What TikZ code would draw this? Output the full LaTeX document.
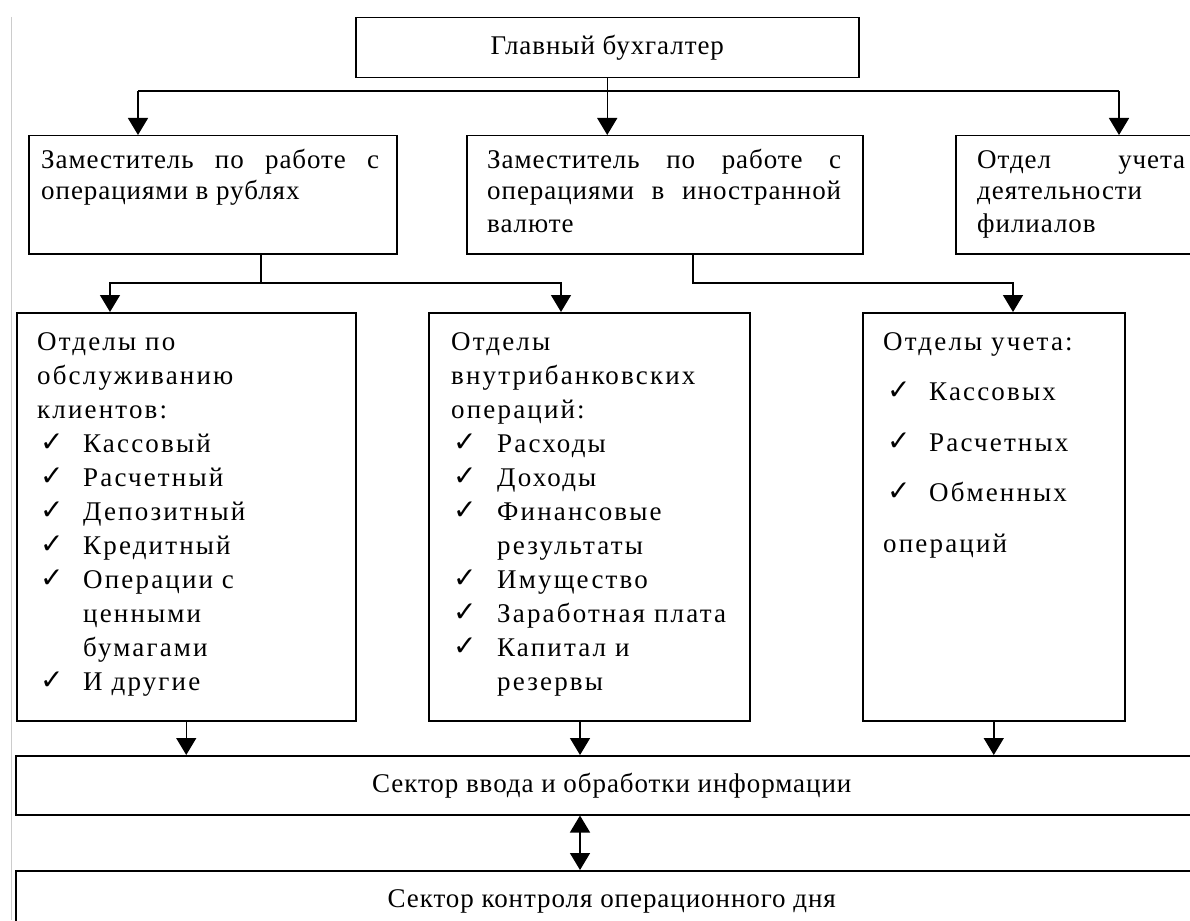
\documentclass[tikz,border=0pt]{standalone}
\usepackage{fontspec}
\setmainfont{Liberation Serif}
\newfontfamily\symfont{DejaVu Sans}
\usetikzlibrary{arrows.meta}
\newcommand{\chk}{{\symfont\fontsize{28}{28}\selectfont\raisebox{1pt}{✓}}}
\newcommand{\itm}[2]{\hspace*{#1pt}\makebox[\numexpr46-#1\relax pt][l]{\chk}}
\newcommand{\cont}{\hspace*{46pt}}
\newcommand{\jline}[1]{\makebox[\linewidth][s]{#1}}
\newcommand{\mainsize}{\fontsize{27}{32}\selectfont\addfontfeatures{LetterSpace=3.5}}
\tikzset{
  box/.style={draw, line width=1.5pt, inner sep=0pt, anchor=north west, font=\mainsize},
  ln/.style={line width=1.5pt},
  arr/.style={line width=1.5pt, -{Triangle[length=17pt,width=20pt]}},
  darr/.style={line width=1.5pt, {Triangle[length=17pt,width=20pt]}-{Triangle[length=17pt,width=20pt]}},
  txt/.style={inner sep=0pt, anchor=base west, font=\mainsize},
  ltxt/.style={inner sep=0pt, anchor=base west, font=\fontsize{27}{34}\selectfont\addfontfeatures{LetterSpace=8}},
  ftxt/.style={inner sep=0pt, anchor=base west, font=\fontsize{27}{50.5}\selectfont\addfontfeatures{LetterSpace=8}},
}
\begin{document}
\begin{tikzpicture}[x=1pt,y=-1pt]
\useasboundingbox (0,0) rectangle (1190,920);
\clip (0,0) rectangle (1190,920);
\fill[white] (0,0) rectangle (1190,920);
\draw[gray!40, line width=1pt] (11,17) -- (11,920);

% boxes
\node[box, minimum width=503pt, minimum height=60pt] (chief) at (355,17) {Главный бухгалтер};
\node[box, minimum width=368pt, minimum height=118pt] (boxA) at (28,135) {};
\node[box, minimum width=396pt, minimum height=118pt] (boxB) at (466,135) {};
\node[box, minimum width=251pt, minimum height=118pt] (boxC) at (955,135) {};
\node[box, minimum width=339pt, minimum height=408pt] (boxD) at (16,312) {};
\node[box, minimum width=321pt, minimum height=408pt] (boxE) at (428,312) {};
\node[box, minimum width=262pt, minimum height=408pt] (boxF) at (862,312) {};
\node[box, minimum width=1192pt, minimum height=59pt] (sec1) at (15,755) {Сектор ввода и обработки информации};
\node[box, minimum width=1192pt, minimum height=61pt] (sec2) at (15,870) {Сектор контроля операционного дня};

% texts
\node[txt] (tA) at (41,168) {\parbox[t]{338pt}{\jline{Заместитель по работе с}\\операциями в рублях}};
\node[txt] (tB) at (487,168) {\parbox[t]{354pt}{\jline{Заместитель по работе с}\\\jline{операциями в иностранной}\\валюте}};
\node[txt] (tC) at (977,168) {\parbox[t]{208pt}{\jline{Отдел учета}\\деятельности\\филиалов}};
\node[ltxt] (tD) at (37,350) {\parbox[t]{310pt}{Отделы по\\обслуживанию\\клиентов:\\
\itm{3}{}Кассовый\\
\itm{3}{}Расчетный\\
\itm{3}{}Депозитный\\
\itm{3}{}Кредитный\\
\itm{3}{}Операции с\\
\cont ценными\\
\cont бумагами\\
\itm{3}{}И другие}};
\node[ltxt] (tE) at (451,350) {\parbox[t]{295pt}{Отделы\\внутрибанковских\\операций:\\
\itm{2}{}Расходы\\
\itm{2}{}Доходы\\
\itm{2}{}Финансовые\\
\cont результаты\\
\itm{2}{}Имущество\\
\itm{2}{}Заработная плата\\
\itm{2}{}Капитал и\\
\cont резервы}};
\node[ftxt] (tF) at (883,350) {\parbox[t]{235pt}{Отделы учета:\\
\itm{4}{}Кассовых\\
\itm{4}{}Расчетных\\
\itm{4}{}Обменных\\
операций}};

% connectors level 1
\coordinate (hA) at (138,91);
\coordinate (hC) at (1119,91);
\draw[ln] (hA) -- (hC);
\draw[arr] (chief.south) -- (chief.south |- boxB.north);
\draw[arr] (hA) -- (hA |- boxA.north);
\draw[arr] (hC) -- (hC |- boxC.north);

% connectors level 2
\coordinate (jA) at (261,283);
\coordinate (lA) at (110,283);
\coordinate (rA) at (561,283);
\draw[ln] (boxA.south -| jA) -- (jA);
\draw[arr] (jA) -| (lA |- boxD.north);
\draw[arr] (jA) -| (rA |- boxE.north);
\coordinate (jB) at (693,283);
\coordinate (rB) at (1013,283);
\draw[arr] (boxB.south -| jB) -- (jB) -- (rB) -- (rB |- boxF.north);

% connectors level 3
\coordinate (xE) at (580,0);
\draw[arr] (boxD.south) -- (boxD.south |- sec1.north);
\draw[arr] (boxE.south -| xE) -- (sec1.north -| xE);
\draw[arr] (boxF.south) -- (boxF.south |- sec1.north);
\draw[darr] (sec1.south -| xE) -- (sec2.north -| xE);
\end{tikzpicture}
\end{document}
